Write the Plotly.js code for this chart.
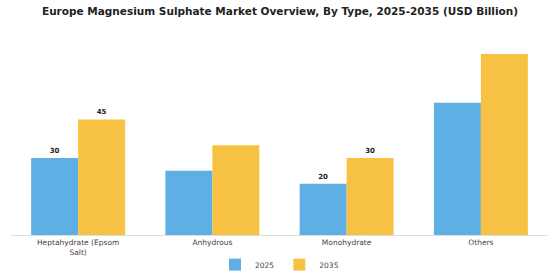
<!DOCTYPE html>
<html>
<head>
<meta charset="utf-8">
<script src="https://cdn.plot.ly/plotly-3.0.1.min.js"></script>
<style>html,body{margin:0;padding:0;background:#fff;}#chart{width:560px;height:280px;}</style>
</head>
<body>
<div id="chart"></div>
<script>
const categories = ["Heptahydrate (Epsom<br>Salt)", "Anhydrous", "Monohydrate", "Others"];
const values2025 = [30, 25, 20, 51.5];
const values2035 = [45, 35, 30, 70.5];
const labels2025 = ["<b>30</b>", "", "<b>20</b>", ""];
const labels2035 = ["<b>45</b>", "", "<b>30</b>", ""];
const seriesNames = ["2025", "2035"];

const labelFont = {family: "DejaVu Sans", size: 7, color: "#222"};
const traces = [
  {type: "bar", name: seriesNames[0], x: categories, y: values2025, text: labels2025,
   textposition: "outside", textfont: labelFont, cliponaxis: false,
   marker: {color: "#5DAFE4"}, hoverinfo: "none"},
  {type: "bar", name: seriesNames[1], x: categories, y: values2035, text: labels2035,
   textposition: "outside", textfont: labelFont, cliponaxis: false,
   marker: {color: "#F7C244"}, hoverinfo: "none"}
];
const layout = {
  width: 560, height: 280,
  margin: {l: 11, r: 12, t: 45, b: 45},
  paper_bgcolor: "#fff", plot_bgcolor: "#fff",
  title: {text: "<b>Europe Magnesium Sulphate Market Overview, By Type, 2025-2035 (USD Billion)</b>",
          font: {family: "DejaVu Sans", size: 10.5, color: "#222"}, x: 0.5, xanchor: "center", y: 0.96, yanchor: "middle"},
  barmode: "group", bargap: 0.3, bargroupgap: 0,
  xaxis: {showline: true, linecolor: "#ddd", linewidth: 1, ticks: "", automargin: false,
          tickfont: {family: "DejaVu Sans", size: 7.5, color: "#444"}, showgrid: false},
  yaxis: {range: [0, 74], visible: false, showgrid: false, zeroline: false, automargin: false},
  showlegend: true,
  legend: {orientation: "h", x: 0.5, xanchor: "center", yref: "container", y: 0.055, yanchor: "middle",
           font: {family: "DejaVu Sans", size: 7.5, color: "#444"}, itemwidth: 30}
};
Plotly.newPlot("chart", traces, layout, {staticPlot: true, displayModeBar: false});
</script>
</body>
</html>
